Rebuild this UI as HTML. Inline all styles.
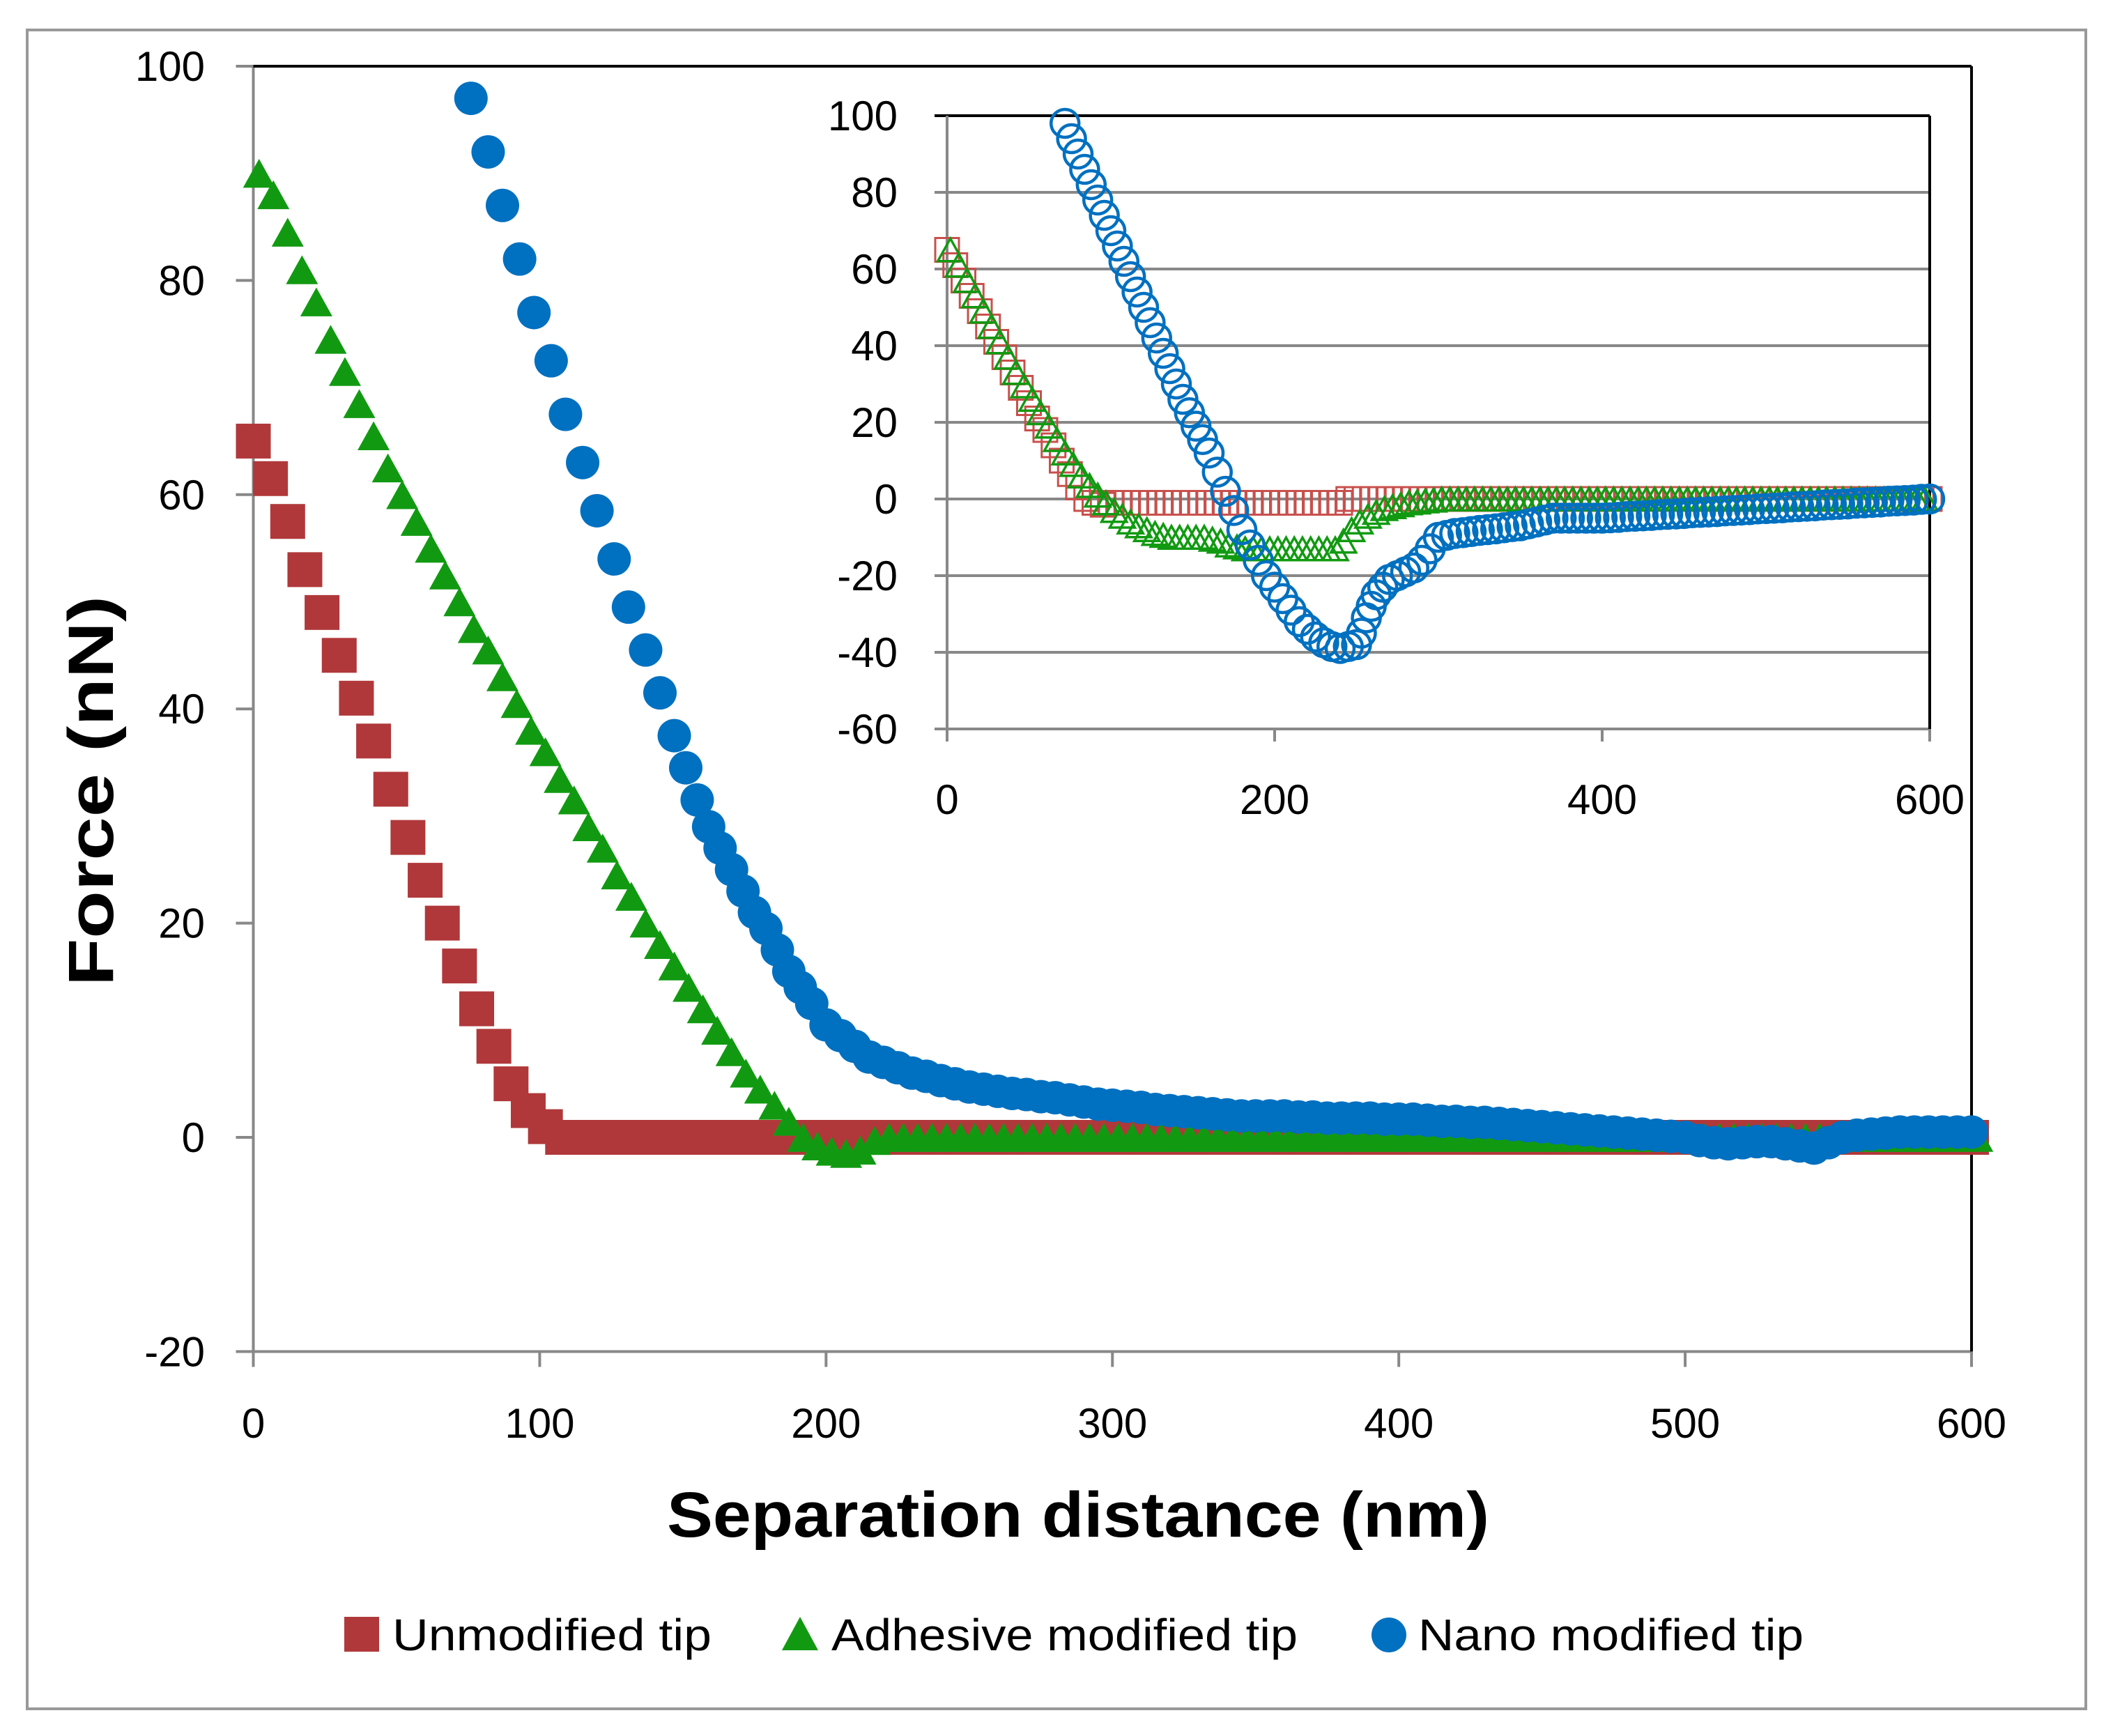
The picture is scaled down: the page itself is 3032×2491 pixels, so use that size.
<!DOCTYPE html>
<html><head><meta charset="utf-8"><style>
html,body{margin:0;padding:0;background:#fff;}
svg{display:block;font-family:"Liberation Sans",sans-serif;}
</style></head><body>
<svg id="chart" width="3032" height="2491" viewBox="0 0 3032 2491" xmlns="http://www.w3.org/2000/svg">
<rect x="39" y="43" width="2954" height="2409" fill="#fff" stroke="#999" stroke-width="4"/>
<g id="main"></g>
<g id="inset"></g>
<g id="legend">
  <rect x="494" y="2320" width="50" height="50" fill="#B0383A"/>
  <text x="563" y="2368" font-size="64" fill="#000" textLength="458" lengthAdjust="spacingAndGlyphs">Unmodified tip</text>
  <polygon points="1148,2320 1122,2368 1174,2368" fill="#119A11"/>
  <text x="1193" y="2368" font-size="64" fill="#000" textLength="669" lengthAdjust="spacingAndGlyphs">Adhesive modified tip</text>
  <circle cx="1993" cy="2346" r="25" fill="#0070C0"/>
  <text x="2035" y="2368" font-size="64" fill="#000" textLength="553" lengthAdjust="spacingAndGlyphs">Nano modified tip</text>
</g>
</svg>
<script>
// ---- main chart data ----
const mainXTicks = [0,100,200,300,400,500,600];
const mainYTicks = [-20,0,20,40,60,80,100];
const redStart = 0, redStep = 6;
const redMain = [65,61.5,57.5,53,49,45,41,37,32.5,28,24,20,16,12,8.5,5,2.5,1,0,
0,0,0,0,0,0,0,0,0,0, 0,0,0,0,0,0,0,0,0,0, 0,0,0,0,0,0,0,0,0,0, 0,0,0,0,0,0,0,0,0,0,
0,0,0,0,0,0,0,0,0,0, 0,0,0,0,0,0,0,0,0,0, 0,0,0,0,0,0,0,0,0,0, 0,0,0,0,0,0,0,0,0,0, 0,0];
const greenStart = 2, greenStep = 5;
const greenMain = [90,88,84.5,81,78,74.5,71.5,68.5,65.5,62.5,60,57.5,55,52.5,50,47.5,45.5,43,40.5,38,36,33.5,31.5,29,27,24.5,22.5,20,18,16,14,12,10,8,6,4.5,3,1.5,0,-0.8,-1.3,-1.5,-1.2,-0.3,
0,0,0,0,0,0,0,0,0,0, 0,0,0,0,0,0,0,0,0,0, 0,0,0,0,0,0,0,0,0,0, 0,0,0,0,0,0,0,0,0,0,
0,0,0,0,0,0,0,0,0,0, 0,0,0,0,0,0,0,0,0,0, 0,0,0,0,0,0,0,0,0,0, 0,0,0,0,0,0,0];
const blueMainX = [76,82,87,93,98,104,109,115,120,126,131,137,142,147,151,155,159,163,167,171,175,179,183,187,191,195,200,205,210,215,220,225,230,235,240,245,250,255,260,265,270,275,280,285,290,295,300,305,310,315,320,325,330,335,340,345,350,355,360,365,370,375,380,385,390,395,400,405,410,415,420,425,430,435,440,445,450,455,460,465,470,475,480,485,490,495,500,505,510,515,520,525,530,535,540,545,550,555,560,565,570,575,580,585,590,595,600];
const blueMainY = [97,92,87,82,77,72.5,67.5,63,58.5,54,49.5,45.5,41.5,37.5,34.5,31.5,29,27,25,23,21,19.5,17.5,15.5,14,12.5,10.5,9.5,8.5,7.5,7,6.5,6,5.7,5.3,5,4.7,4.5,4.3,4.1,4,3.8,3.7,3.5,3.3,3.1,3,2.9,2.8,2.6,2.5,2.4,2.3,2.2,2.1,2,2,2,2,1.9,1.9,1.8,1.8,1.8,1.8,1.7,1.7,1.7,1.6,1.5,1.5,1.4,1.4,1.3,1.2,1.1,1,0.9,0.8,0.7,0.6,0.5,0.4,0.3,0.2,0.1,0,-0.3,-0.5,-0.6,-0.5,-0.4,-0.4,-0.6,-0.8,-1,-0.5,0,0.2,0.3,0.4,0.5,0.5,0.5,0.5,0.5,0.5];
// ---- inset data ----
const insetXTicks = [0,200,400,600];
const insetYTicks = [-60,-40,-20,0,20,40,60,80,100];
const redInStart = 0, redInStep = 5;
const redInset = [65,61,57,53,49,45,41,37,33,29,25,21,18,14,10,6.5,3,0,-1,-1.5,
-1,-1,-1,-1,-1,-1,-1,-1,-1,-1, -1,-1,-1,-1,-1,-1,-1,-1,-1,-1, -1,-1,-1,-1,-1,-1,-1,-1,-1,
0,0,0,0,0,0,0,0,0,0, 0,0,0,0,0,0,0,0,0,0, 0,0,0,0,0,0,0,0,0,0, 0,0,0,0,0,0,0,0,0,0, 0,0,0,0,0,0,0,0,0,0, 0,0,0,0,0,0,0,0,0,0, 0,0,0,0,0,0,0,0,0,0, 0,0];
const greenInStart = 2, greenInStep = 5;
const greenInset = [65,61,57,53,49,45,41,37,33,29.5,26,22.5,19,15.5,12,9,6,3.5,1,-1,-3,-4.5,-6,-7,-8,-9,-9.5,-10,-10,-10,-10,-10,-10.5,-11,-12,-12.5,-13,-13,
-13,-13,-13,-13,-13,-13,-13,-13,-13,-13,
-11,-8,-6,-4.5,-3.5,-2.5,-2,-1.5,-1,-0.8,-0.5,-0.3,0,
0,0,0,0,0,0,0,0,0,0, 0,0,0,0,0,0,0,0,0,0, 0,0,0,0,0,0,0,0,0,0, 0,0,0,0,0,0,0,0,0,0, 0,0,0,0,0,0,0,0,0,0, 0,0,0,0,0,0,0,0,0];
const blueInsetX = [72,76,80,84,88,92,96,100,104,108,112,116,120,124,128,132,136,140,144,148,152,156,160,165,170,175,180,185,190,195,200,205,210,215,220,225,230,235,240,245,250,253,256,259,262,266,270,275,280,285,290,295,300,305,310,315,320,325,330,335,340,345,350,355,360,365,370,375,380,385,390,395,400,405,410,415,420,425,430,435,440,445,450,455,460,465,470,475,480,485,490,495,500,505,510,515,520,525,530,535,540,545,550,555,560,565,570,575,580,585,590,595,600];
const blueInsetY = [98,94,90,86,82,78,74,70,66,62,58,54,50,46,42,38,34,30,26,22.5,19,15.5,12,7,2,-3,-8,-12,-16,-20,-23,-26,-29,-32,-34,-36,-37.5,-38.5,-39,-38.5,-38,-35,-31,-28,-25,-23,-21,-20,-19,-18,-16,-13,-10,-9.5,-9,-8.8,-8.5,-8.2,-8,-7.8,-7.5,-7.2,-7,-6.5,-6,-5.5,-5,-5,-5,-5,-5,-5,-5,-4.9,-4.8,-4.6,-4.5,-4.4,-4.3,-4.1,-4,-3.9,-3.8,-3.6,-3.5,-3.4,-3.3,-3.1,-3,-2.9,-2.8,-2.6,-2.5,-2.4,-2.3,-2.1,-2,-1.9,-1.8,-1.6,-1.5,-1.4,-1.3,-1.1,-1,-0.9,-0.8,-0.6,-0.5,-0.4,-0.3,-0.1,0];

const NS = "http://www.w3.org/2000/svg";
function mk(parent, tag, attrs, text){
  const e = document.createElementNS(NS, tag);
  for (const k in attrs) e.setAttribute(k, attrs[k]);
  if (text !== undefined) e.textContent = text;
  parent.appendChild(e); return e;
}
const mX = v => 363.5 + (v/600)*(2829-363.5);
const mY = v => 1632 - (v/100)*(1632-95);
const iX = v => 1359 + (v/600)*(2769-1359);
const iY = v => 716 - (v/100)*(716-166);

const main = document.getElementById('main');
const inset = document.getElementById('inset');

let l;
l = mk(main,'line',{x1:mX(0),y1:mY(-20),x2:mX(600),y2:mY(-20),stroke:'#888','stroke-width':4});
 
l = mk(main,'line',{x1:mX(0),y1:mY(-20),x2:mX(0),y2:mY(100),stroke:'#888','stroke-width':4});
 
l = mk(main,'line',{x1:mX(0),y1:mY(100),x2:mX(600),y2:mY(100),stroke:'#000','stroke-width':4});
 
l = mk(main,'line',{x1:mX(600),y1:mY(100),x2:mX(600),y2:mY(-20),stroke:'#000','stroke-width':4});
 
mainYTicks.forEach(v=>{
  const t = mk(main,'line',{x1:mX(0)-25,y1:mY(v),x2:mX(0),y2:mY(v),stroke:'#888','stroke-width':4});
   
  const tx = mk(main,'text',{x:294,y:mY(v)+21,'font-size':60,'text-anchor':'end',fill:'#000'},String(v));
   
});
mainXTicks.forEach(v=>{
  const t = mk(main,'line',{x1:mX(v),y1:mY(-20),x2:mX(v),y2:mY(-20)+22,stroke:'#888','stroke-width':4});
   
  const tx = mk(main,'text',{x:mX(v),y:2063,'font-size':60,'text-anchor':'middle',fill:'#000'},String(v));
   
});
let tt = mk(main,'text',{x:1547,y:2205,'font-size':92,'font-weight':'bold','text-anchor':'middle',textLength:1180,lengthAdjust:'spacingAndGlyphs',fill:'#000'},'Separation distance (nm)');
 
tt = mk(main,'text',{x:0,y:0,'font-size':92,'font-weight':'bold','text-anchor':'middle',textLength:560,lengthAdjust:'spacingAndGlyphs',fill:'#000',transform:'translate(162,1135) rotate(-90)'},'Force (nN)');
 

function sq(g,cx,cy,s,fill,stroke,name){
  const e = mk(g,'rect',{x:cx-s/2,y:cy-s/2,width:s,height:s,fill:fill,stroke:stroke,'stroke-width':stroke==='none'?0:3});
   
}
function tri(g,cx,cy,s,fill,stroke,name){
  const h=s*0.9;
  const e = mk(g,'polygon',{points:`${cx},${cy-h/2} ${cx-s/2},${cy+h/2} ${cx+s/2},${cy+h/2}`,fill:fill,stroke:stroke,'stroke-width':stroke==='none'?0:3.5});
   
}
function circ(g,cx,cy,r,fill,stroke,name){
  const e = mk(g,'circle',{cx:cx,cy:cy,r:r,fill:fill,stroke:stroke,'stroke-width':stroke==='none'?0:4.5});
   
}
redMain.forEach((v,i)=>sq(main,mX(redStart+i*redStep),mY(v),50,'#B0383A','none','unmodified-point'));
greenMain.forEach((v,i)=>tri(main,mX(greenStart+i*greenStep),mY(v),46,'#119A11','none','adhesive-point'));
blueMainX.forEach((x,i)=>circ(main,mX(x),mY(blueMainY[i]),24,'#0070C0','none','nano-point'));

insetYTicks.forEach(v=>{
  const g = mk(inset,'line',{x1:iX(0)-18,y1:iY(v),x2:iX(600),y2:iY(v),stroke:v===100?'#000':'#888','stroke-width':4});
   
  const tx = mk(inset,'text',{x:1288,y:iY(v)+21,'font-size':60,'text-anchor':'end',fill:'#000'},String(v));
   
});
l = mk(inset,'line',{x1:iX(0),y1:iY(100),x2:iX(0),y2:iY(-60),stroke:'#888','stroke-width':4});
 
l = mk(inset,'line',{x1:iX(600),y1:iY(100),x2:iX(600),y2:iY(-60),stroke:'#000','stroke-width':4});
 
insetXTicks.forEach(v=>{
  const t = mk(inset,'line',{x1:iX(v),y1:iY(-60),x2:iX(v),y2:iY(-60)+18,stroke:'#888','stroke-width':4});
   
  const tx = mk(inset,'text',{x:iX(v),y:1168,'font-size':60,'text-anchor':'middle',fill:'#000'},String(v));
   
});
redInset.forEach((v,i)=>sq(inset,iX(redInStart+i*redInStep),iY(v),34,'none','#C8504D','inset-unmodified-point'));
greenInset.forEach((v,i)=>tri(inset,iX(greenInStart+i*greenInStep),iY(v),36,'none','#119A11','inset-adhesive-point'));
blueInsetX.forEach((x,i)=>circ(inset,iX(x),iY(blueInsetY[i]),20,'none','#0070C0','inset-nano-point'));
</script>
</body></html>
